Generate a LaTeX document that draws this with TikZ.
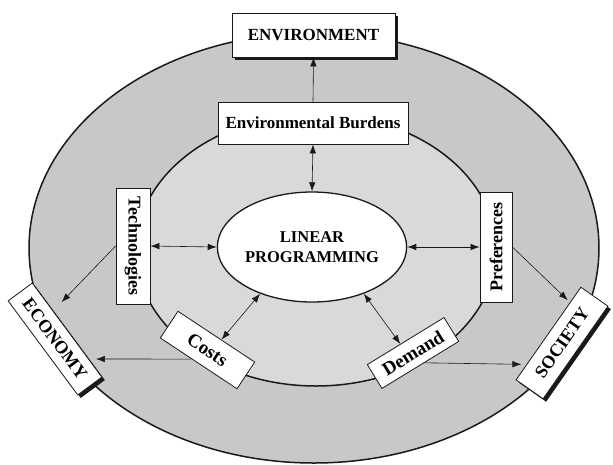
\documentclass[tikz,border=0pt]{standalone}
\usepackage{fontspec}
\setmainfont{Liberation Serif}
\usetikzlibrary{positioning, calc, shapes.geometric, arrows.meta, shadows}
\definecolor{clOuter}{RGB}{200,200,200}
\definecolor{clInner}{RGB}{217,217,217}
\definecolor{clLine} {RGB}{ 25, 25, 25}
\tikzset{
  base/.style={
    align=center, draw=clLine, fill=white, line width=0.8pt, inner sep=0pt
  },
  ring/.style={
    draw=clLine, line width=1.5pt
  },
  factor/.style={
    base, rectangle,
    font=\fontsize{17}{20}\selectfont\bfseries
  },
  sphere/.style={
    base, rectangle,
    font=\fontsize{18}{20}\selectfont\bfseries,
    drop shadow={shadow xshift=3pt, shadow yshift=-3pt, fill=clLine, opacity=1}
  },
  core/.style={
    base, ellipse, line width=1.3pt,
    minimum width=170pt, minimum height=110pt,
    font=\fontsize{16.5}{20}\selectfont\bfseries
  },
  arr/.style={
    -{Latex[length=9pt, width=6.5pt]},
    line width=0.6pt, color=clLine
  },
  darr/.style={
    arr, {Latex[length=9pt, width=6.5pt]}-{Latex[length=9pt, width=6.5pt]}
  }
}

\begin{document}
\begin{tikzpicture}[x=1pt, y=-1pt]
    \useasboundingbox (0,0) rectangle (613,464);

    % ============================================================
    % RINGS
    % ============================================================
    \draw [ring, fill=clOuter] (314,248) ellipse [x radius=285pt, y radius=215pt];
    \draw [ring, fill=clInner] (316,250) ellipse [x radius=180pt, y radius=136pt];

    % ============================================================
    % CENTRE AND FACTOR NODES
    % ============================================================
    \node (lp) [core] at (312,247) {LINEAR\\PROGRAMMING};

    \node (burdens) [factor, minimum width=190pt, minimum height=42pt] at (313,123) {Environmental Burdens};

    \node (tech) [factor, rotate=-90, minimum width=116pt, minimum height=34pt,
      font=\fontsize{18}{20}\selectfont\bfseries] at (133,246) {Technologies};

    \node (pref) [factor, rotate=90, minimum width=110pt, minimum height=32pt,
      font=\fontsize{18}{20}\selectfont\bfseries] at (496,247) {Preferences};

    \node (costs) [factor, rotate=-33.5, minimum width=92pt, minimum height=32pt,
      font=\fontsize{19}{20}\selectfont\bfseries] at (207.5,350) {Costs};

    \node (demand) [factor, rotate=31.5, minimum width=90pt, minimum height=28pt,
      font=\fontsize{19}{20}\selectfont\bfseries] at (413,353) {Demand};

    % ============================================================
    % OUTER SPHERES
    % ============================================================
    \node (env) [sphere, minimum width=163pt, minimum height=44pt,
      font=\fontsize{17}{20}\selectfont\bfseries] at (313.5,35) {ENVIRONMENT};

    \node (econ) [sphere, rotate=-53.5, minimum width=117pt, minimum height=30pt] at (55,339) {ECONOMY};

    \node (soc) [sphere, rotate=55, minimum width=113pt, minimum height=33pt] at (562,343) {SOCIETY};

    % ============================================================
    % CONNECTIONS
    % ============================================================
    % Burdens up to the environment
    \draw [arr] (burdens.north) -- (env.south);

    % Two-way links with the model
    \draw [darr] (lp.north) -- (burdens.south);
    \draw [darr] (tech.north) -- (lp.west);
    \draw [darr] (lp.east) -- (pref.north);
    \draw [darr] (costs.70) -- (lp.222);
    \draw [darr] (demand.113) -- (lp.318);

    % Factors out to the economy and society
    \draw [arr, shorten >=12pt] (tech.south) -- (econ.147);
    \draw [arr, shorten >=7pt] (costs.243) -- (econ.23);
    \draw [arr, shorten >=3pt] (pref.south) -- (soc.24);
    \draw [arr, shorten >=5pt] (demand.-72) -- (soc.156);

\end{tikzpicture}
\end{document}
